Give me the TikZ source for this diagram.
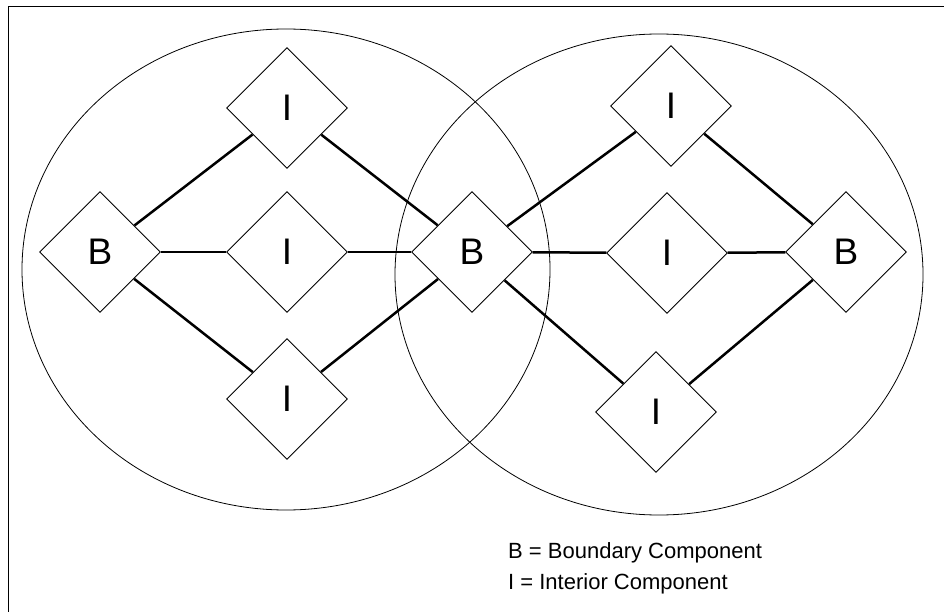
\documentclass[tikz,border=0pt]{standalone}
\usepackage{fontspec}
\setmainfont{Liberation Sans}
\usetikzlibrary{shapes.geometric}
\begin{document}
\begin{tikzpicture}[x=1pt,y=-1pt,
  comp/.style={draw,line width=0.9pt,diamond,aspect=1,minimum width=121pt,minimum height=121pt,inner sep=0pt,font=\fontsize{37}{40}\selectfont},
  link/.style={line width=2.5pt},
  region/.style={draw,line width=0.8pt},
  legend/.style={anchor=base west,inner sep=0pt,font=\fontsize{22}{26}\selectfont}]
\useasboundingbox (0,0) rectangle (944,612);
\draw[line width=1pt] (8,612) -- (8,7) -- (944,7);
\draw[region] (286,269.5) ellipse [x radius=264, y radius=240.5];
\draw[region] (659,274.5) ellipse [x radius=264, y radius=240.5];
\node[comp] (lti) at (287,108) {I};
\node[comp] (lb) at (100,252) {B};
\node[comp] (lmi) at (287,252) {I};
\node[comp] (lbi) at (287,399) {I};
\node[comp] (mb) at (472,252) {B};
\node[comp] (rti) at (671,106) {I};
\node[comp] (rmi) at (667,253) {I};
\node[comp] (rb) at (846,252) {B};
\node[comp] (rbi) at (656,412) {I};
\draw[link] (lb) -- (lti);
\draw[link] (lti) -- (mb);
\draw[link] (lb) -- (lmi);
\draw[link] (lmi) -- (mb);
\draw[link] (lb) -- (lbi);
\draw[link] (lbi) -- (mb);
\draw[link] (mb) -- (rti);
\draw[link] (rti) -- (rb);
\draw[link] (mb) -- (rmi);
\draw[link] (rmi) -- (rb);
\draw[link] (mb) -- (rbi);
\draw[link] (rbi) -- (rb);
\node[legend] (l1) at (508,558) {B = Boundary Component};
\node[legend] (l2) at (508,589) {I = Interior Component};
\end{tikzpicture}
\end{document}
